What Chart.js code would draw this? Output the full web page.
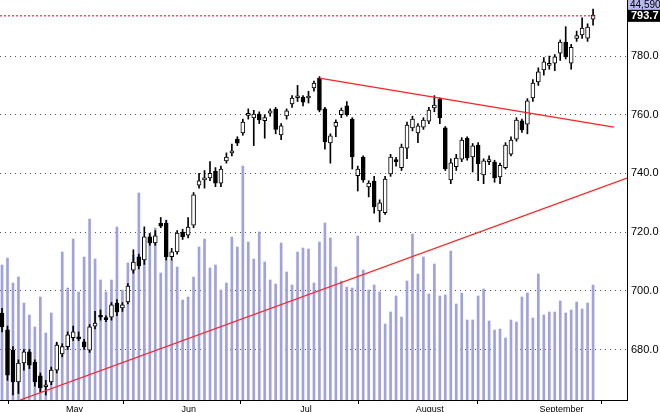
<!DOCTYPE html>
<html><head><meta charset="utf-8">
<script src="https://cdn.jsdelivr.net/npm/chart.js@4"></script>
<style>html,body{margin:0;padding:0;background:#fff}#wrap{width:660px;height:412px}</style>
</head><body><div id="wrap"><canvas id="c" width="660" height="412"></canvas></div>
<script>
const opens=[692.4,686.7,679.8,669,675.4,679.2,675.7,671,667.3,669,673,678.5,681,684,684.3,682.6,679.8,688,691.5,690.7,691,695.8,694.2,696.2,707,711.6,710.5,718.4,716.3,723,723,711.6,713.3,720,719,722.4,736,737.8,738.5,740.8,736.7,744.3,747,751.7,753.8,759.8,758.9,760.2,758,760.5,761.9,753.1,759.6,763.7,765.8,766,765.7,769.1,772.5,762,750.4,756,760,763,758.5,739.2,745.6,735.4,737.4,727.2,726.6,739.8,744.5,742,748.6,755.5,753.8,755.8,757.8,762.3,765.4,755.5,737.8,742.3,744.9,752,745.6,749.7,739.5,744,743.9,738.8,742,746.6,751.7,757.9,756.8,765.7,771.2,775.3,776.8,777.6,781,784.8,777.6,786,787.2,786.1,792.6];
const closes=[687.7,671.3,669,675.4,679.2,674.7,669,666.9,667.8,673,681.5,681,685,686,683.6,680.9,687.7,689,691,690.2,695.2,692.8,695.2,701.6,709.8,708.5,718.4,716.3,718.7,722,711.6,713.3,719.7,718.4,721.7,732.7,737.5,738.2,740,736.7,741.5,745.6,747.2,750.3,757.5,760.2,760.2,758.2,759,761.3,755,756.2,761.3,765.7,766.2,764.3,766,770.8,761.6,750.7,752.8,757.4,761.6,760,745.6,741.5,737.8,736.7,728.6,730,738.1,745.6,744,749,756.5,758.5,756.2,758.2,761.6,763.3,758.9,741.5,743.6,745.2,751.4,745.3,749.4,743.3,744.3,744.4,738.5,742.8,749.7,751.4,758.2,754.8,764.7,770.8,774.6,778,777.2,779.7,784.8,779.7,783,787,789.5,789.9,794];
const highs=[694,688,681,676.5,680,680,676.5,672,669.5,674,682.5,682,686,688,686,683.5,688.5,693,693.5,691.5,696,697,696,702.5,714,712.5,721.8,719.5,720.5,725,724,714.5,720.5,721,725,733.5,740,741,744,742,742.5,747,750,752.5,758.5,762,761.5,761,760,762,762.5,757,762,766.5,770,766.5,768,771.5,773,762.5,753.5,758.3,762.3,764.5,759,742.5,746,737.5,739,731,739,746.5,745.5,750,757.5,759.5,757,759,762.5,766.5,765.8,756,745,746.5,752.2,752.5,750.2,750.5,745,746,744.5,743.5,750.5,752.5,759,758.5,765.5,772,776,779.5,780,780.5,785.5,790,784,788.5,793,791,796];
const lows=[686,669.5,664.5,665,673,673.5,667.5,665.5,664.5,668,672,677.5,680,683,683,680,679,687,690,689.5,690,691.5,693,695.5,706,707.5,709,715.5,715.5,721.5,710.5,710.5,712.5,717.5,718,721.5,735,735,737.5,735.5,735.5,743.5,746,749.5,753,758.5,749.5,757,752,759.5,753.5,751.5,758.5,762.5,764.5,763,764,768,761,748.3,743.5,752.5,759,759.5,741.5,734,737,732,726.5,723.5,726,739,742.5,741,745,754.5,750.5,755,757,761,757,741,736.5,741,744,744.5,740.5,737.5,736.5,743,737,736.5,741.5,746,751,754,753.5,764.5,770,773.5,775.5,775,778.5,779,775.5,785,786,785,790.5];
const volumes=[135,142,117,123,97,85,73,103,67,87,57,148,112,161,108,143,181,141,120,108,120,173,110,137,145,207,150,167,172,127,180,140,133,100,103,123,153,161,132,135,110,117,163,153,234,158,141,168,138,120,116,157,128,115,148,152,151,117,158,177,162,133,119,113,112,164,130,110,115,108,76,88,104,83,119,166,126,143,106,136,104,105,149,96,107,80,80,104,111,79,70,71,62,80,78,103,107,82,126,85,88,88,99,87,90,98,91,97,115];
const monthTickPos=[11.7,32.8,54.5,75.6,98.2];
const monthLabels=['May','Jun','Jul','August','September'];
const priceTicks=[680,700,720,740,760,780];
const supportLine=[[3.3,662.8],[114.2,738.4]];
const resistLine=[[58,772.5],[111.8,755.8]];
const lastPrice=793.7, lastVolumeLabel='44,590';

const idx=opens.map((_,i)=>i);
const bodies=idx.map(i=>({x:i,y:[opens[i],closes[i]]}));
const wicks=idx.map(i=>({x:i,y:[lows[i],highs[i]]}));
const vols=volumes.map((v,i)=>({x:i,y:v}));
const bodyColors=idx.map(i=>closes[i]<opens[i]?'#000':'#fff');

const boxes={id:'boxes',afterDraw(ch){const c=ch.ctx;const x=ch.chartArea.right+1;
 c.save();c.textBaseline='middle';
 c.fillStyle='#b8b8f0';c.fillRect(x,0,660-x,10);c.fillStyle='#000';c.font='10px "Liberation Sans", Arial';c.fillText(lastVolumeLabel,x+2,5);
 const y=ch.scales.y.getPixelForValue(lastPrice);
 c.fillStyle='#000';c.fillRect(x,y-6,660-x,12);c.fillStyle='#fff';c.font='bold 11px "Liberation Sans", Arial';c.fillText(lastPrice.toFixed(1),x+3,y);
 c.restore();}};

new Chart(document.getElementById('c'),{
 type:'bar',
 data:{datasets:[
  {type:'line',data:[{x:-0.37,y:lastPrice},{x:108.4,y:lastPrice}],borderColor:'#e00',borderWidth:1,borderDash:[2,2],pointRadius:0,order:0},
  {type:'line',data:supportLine.map(p=>({x:p[0],y:p[1]})),borderColor:'#f22',borderWidth:1.3,pointRadius:0,order:0},
  {type:'line',data:resistLine.map(p=>({x:p[0],y:p[1]})),borderColor:'#f22',borderWidth:1.3,pointRadius:0,order:0},
  {data:bodies,backgroundColor:bodyColors,borderColor:'#000',borderWidth:1,borderSkipped:false,barThickness:4,minBarLength:2,grouped:false,order:1},
  {data:wicks,backgroundColor:'#000',barThickness:1,grouped:false,order:2},
  {data:vols,yAxisID:'yv',backgroundColor:'#a0a0e4',barThickness:2,grouped:false,order:3}
 ]},
 options:{animation:false,responsive:false,events:[],
  layout:{padding:{top:-8,left:0,right:0,bottom:0}},
  plugins:{legend:{display:false},tooltip:{enabled:false}},
  scales:{
   x:{type:'linear',min:-0.37,max:114.2,offset:false,
     afterFit(s){s.height=12;},
     afterBuildTicks(s){s.ticks=monthTickPos.map(v=>({value:v}));},
     ticks:{autoSkip:false,align:'start',padding:0,color:'#000',font:{size:9,family:'"Liberation Sans", Arial'},
       callback:(v,i)=>monthLabels[i]},
     grid:{drawOnChartArea:false,drawTicks:true,tickLength:4,color:'#000'},
     border:{color:'#000'}},
   y:{position:'right',min:662.8,max:799.1,
     afterFit(s){s.width=33;s.paddingTop=0;s.paddingBottom=0;},
     afterBuildTicks(s){s.ticks=priceTicks.map(v=>({value:v}));},
     ticks:{color:'#000',padding:4,font:{size:11,family:'"Liberation Sans", Arial'},callback:v=>Number(v).toFixed(1)},
     grid:{color:'#555',drawTicks:false},
     border:{color:'#000',dash:[1,4]}},
   yv:{display:false,min:0,max:400}
  }},
 plugins:[boxes]
});
</script></body></html>
